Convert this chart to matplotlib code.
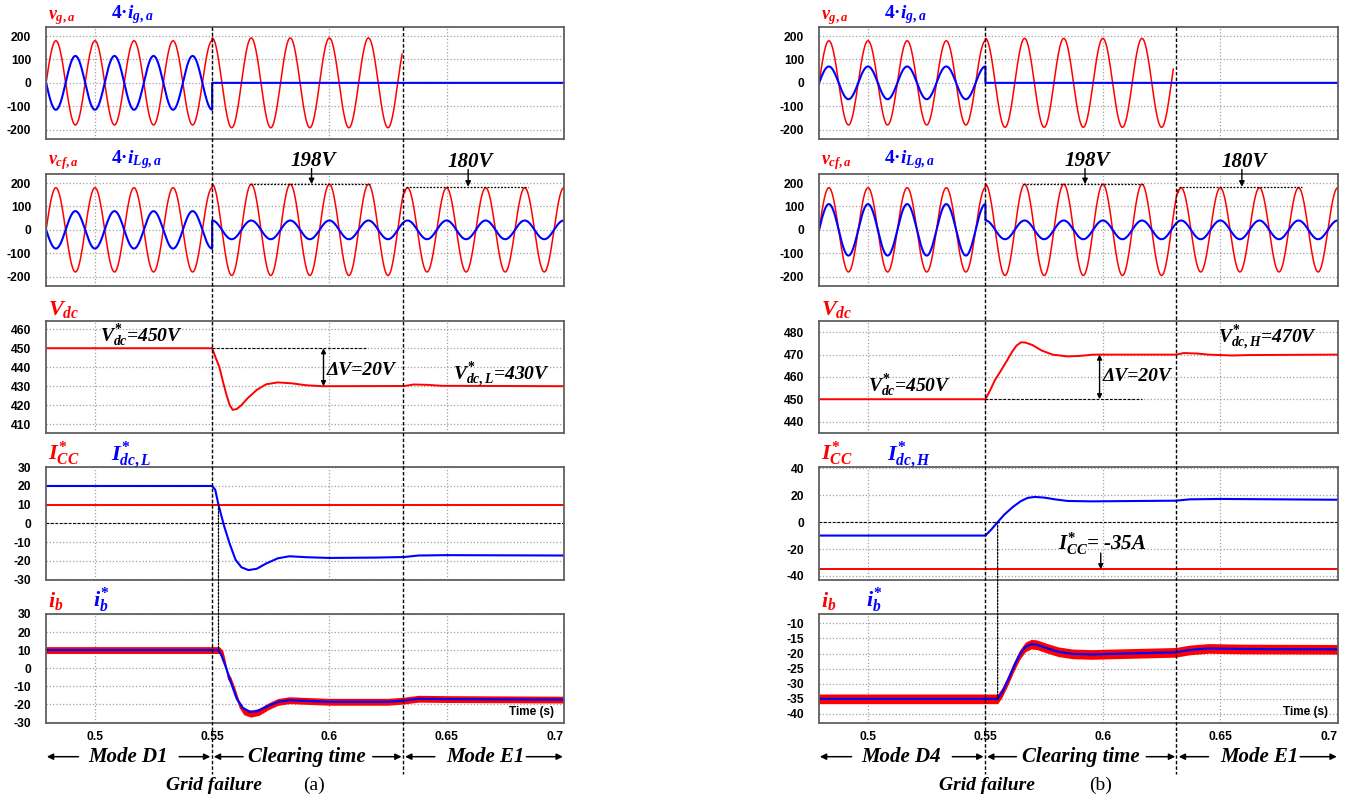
import numpy as np
import matplotlib
matplotlib.use('Agg')
import matplotlib.pyplot as plt
import matplotlib.transforms as mtrans
from matplotlib.patches import ConnectionPatch
from matplotlib.lines import Line2D

plt.rcParams['font.family'] = 'Liberation Sans'
plt.rcParams['font.weight'] = 'bold'
plt.rcParams['axes.unicode_minus'] = False
plt.rcParams['mathtext.fontset'] = 'custom'
plt.rcParams['mathtext.rm'] = 'Liberation Serif:bold'
plt.rcParams['mathtext.it'] = 'Liberation Serif:italic:bold'
plt.rcParams['mathtext.bf'] = 'Liberation Serif:bold'

RED = '#ff0000'
BLUE = '#0000ff'

# ---------------- data ----------------
f_grid = 60  # Hz
t_lim = (0.479, 0.7)
t_fail = 0.55
t_clear = [0.6316, 0.6313]      # end of clearing time, (a) and (b)
t_link = [0.5527, 0.5552]       # short dotted marker between Icc and ib panels

# cosine segments: edges and amplitudes (4*i for the currents)
vga_edges = [[0.479, 0.55, 0.631], [0.479, 0.55, 0.630]]
vga_amp = [[180, 192], [180, 190]]
iga_edges = [[0.479, 0.55, 0.7], [0.479, 0.55, 0.7]]
iga_amp = [[-115, 0], [70, 0]]
vcf_edges = [[0.479, 0.55, 0.632, 0.7], [0.479, 0.55, 0.632, 0.7]]
vcf_amp = [[180, 195, 180], [180, 195, 180]]
ilg_edges = [[0.479, 0.55, 0.632, 0.7], [0.479, 0.55, 0.632, 0.7]]
ilg_amp = [[-80, 40, 40], [110, 40, 40]]

# DC-link voltage
vdc_t_a = [0.479, 0.55, 0.5515, 0.5531, 0.5547, 0.5561, 0.5575, 0.5588, 0.5605, 0.5625,
           0.565, 0.569, 0.573, 0.578, 0.584, 0.59, 0.597, 0.632, 0.636, 0.642, 0.648, 0.7]
vdc_a = [450, 450, 445, 440, 432, 425.5, 420, 417.5, 418, 420,
         423.5, 428, 431, 432, 431.5, 430.5, 430, 430.1, 430.9, 430.7, 430.2, 430]
vdc_t_b = [0.479, 0.55, 0.552, 0.554, 0.5564, 0.559, 0.5612, 0.5632, 0.5651, 0.567, 0.57,
           0.574, 0.5786, 0.5849, 0.59, 0.596, 0.631, 0.6345, 0.64, 0.645, 0.655, 0.662, 0.7]
vdc_b = [450, 450, 454, 458.5, 462.5, 467, 471, 474, 475.5, 475.4, 474.3,
         471.8, 470, 469.2, 469.4, 470, 470, 470.7, 470.5, 470, 469.6, 469.8, 470]

# Icc* (constant) and Idc*
icc = [10, -35]
idc_t_a = [0.479, 0.55, 0.5513, 0.5527, 0.555, 0.5575, 0.56, 0.5625, 0.5655, 0.569, 0.573,
           0.578, 0.583, 0.59, 0.6, 0.62, 0.632, 0.638, 0.65, 0.7]
idc_a = [20, 20, 18, 10, -1, -11, -19.5, -23.5, -25, -24.3, -21.5,
         -18.7, -17.6, -18.1, -18.5, -18.3, -18, -17.2, -17, -17.2]
idc_t_b = [0.479, 0.55, 0.5525, 0.5552, 0.558, 0.5615, 0.565, 0.568, 0.571, 0.575, 0.58,
           0.585, 0.595, 0.631, 0.637, 0.65, 0.7]
idc_b = [-10, -10, -5.5, 0, 5.5, 11, 15.5, 18, 18.7, 18.2, 16.8,
         15.7, 15.4, 15.9, 16.9, 17.2, 16.6]

# battery current ib (red, with ripple) and reference ib* (blue)
ibr_t_a = [0.479, 0.5527, 0.554, 0.556, 0.558, 0.5605, 0.563, 0.566, 0.569, 0.573, 0.578,
           0.583, 0.59, 0.6, 0.625, 0.632, 0.638, 0.65, 0.7]
ibr_a = [10, 10, 7, 0, -8, -17, -22, -24.3, -24, -21.5, -18.8,
         -17.8, -18.2, -18.7, -18.7, -18, -17, -17.2, -17.5]
ib_t_a = [0.479, 0.553, 0.5545, 0.5555, 0.5565, 0.558, 0.5595, 0.5615, 0.5635, 0.5665, 0.57,
          0.574, 0.578, 0.583, 0.59, 0.6, 0.625, 0.632, 0.638, 0.65, 0.7]
ib_a = [10, 10, 8, 3, -4, -7, -12, -20, -24, -25.3, -24.3,
        -21.2, -18.8, -17.8, -18.2, -18.7, -18.7, -18, -17, -17.2, -17.5]
ibr_t_b = [0.479, 0.5552, 0.557, 0.5595, 0.562, 0.5645, 0.567, 0.5695, 0.572, 0.576, 0.581,
           0.587, 0.595, 0.61, 0.631, 0.637, 0.645, 0.66, 0.7]
ibr_b = [-35, -35, -33, -29, -24.5, -20.5, -17.8, -16.9, -17.1, -18.2, -19.4,
         -20.1, -20.3, -20, -19.6, -18.8, -18.3, -18.5, -18.6]
ib_t_b = ibr_t_b
ib_b = ibr_b
ripple = [1.9, 1.6]

# axis settings
ylims = [[(-240, 240), (-240, 240), (405.5, 464.5), (-30.3, 30), (-30.3, 30)],
         [(-240, 240), (-240, 240), (435, 485.2), (-43, 40.7), (-42.9, -6.9)]]
yticks = [[[-200, -100, 0, 100, 200], [-200, -100, 0, 100, 200], [410, 420, 430, 440, 450, 460],
           [-30, -20, -10, 0, 10, 20, 30], [-30, -20, -10, 0, 10, 20, 30]],
          [[-200, -100, 0, 100, 200], [-200, -100, 0, 100, 200], [440, 450, 460, 470, 480],
           [-40, -20, 0, 20, 40], [-40, -35, -30, -25, -20, -15, -10]]]
xticks = [0.5, 0.55, 0.6, 0.65, 0.7]
xtick_labels = ['0.5', '0.55', '0.6', '0.65', '0.7']


def cos_wave(edges, amps):
    ts, ys = [], []
    for a, b, amp in zip(edges[:-1], edges[1:], amps):
        t = np.linspace(a, b, 600)
        ts.append(t)
        ys.append(amp * np.cos(2 * np.pi * f_grid * t))
    return np.concatenate(ts), np.concatenate(ys)


W, H = 1350, 800
fig = plt.figure(figsize=(W / 100, H / 100), dpi=100)

rows_px = [(26.7, 139), (173.7, 286), (320.7, 432.7), (467.3, 580), (614, 722.7)]
cols_px = [(45.7, 563.8), (818.7, 1337.7)]

serif = dict(family='Liberation Serif', weight='bold', style='italic')
dash = (0, (2.5, 1.5))
dot = (0, (1.5, 1.2))

for c in range(2):
    x0, x1 = cols_px[c]
    axes = []
    for r, (top, bot) in enumerate(rows_px):
        ax = fig.add_axes([x0 / W, 1 - bot / H, (x1 - x0) / W, (bot - top) / H])
        ax.set_xlim(*t_lim)
        ax.set_ylim(*ylims[c][r])
        ax.set_yticks(yticks[c][r])
        ax.set_xticks(xticks)
        ax.set_axisbelow(True)
        ax.grid(True, ls=':', color='#a0a0a0', lw=0.9)
        ax.tick_params(length=0, labelsize=8.7, pad=10.5)
        ax.tick_params(axis='x', pad=6)
        if r < 4:
            ax.set_xticklabels([])
        else:
            ax.set_xticklabels(xtick_labels)
            ax.get_xticklabels()[-1].set_horizontalalignment('right')
        for s in ax.spines.values():
            s.set_color('#606060')
            s.set_linewidth(1.3)
        axes.append(ax)
    ax1, ax2, ax3, ax4, ax5 = axes
    xb = lambda ax: mtrans.blended_transform_factory(ax.transData, ax.transAxes)

    # panel 1: grid voltage / current
    t, y = cos_wave(vga_edges[c], vga_amp[c])
    ax1.plot(t, y, color=RED, lw=1.1)
    t, y = cos_wave(iga_edges[c], iga_amp[c])
    ax1.plot(t, y, color=BLUE, lw=1.5)
    ax1.text(t_lim[0] + 0.0008, 1.064, r'$v_{g,a}$', color=RED, fontsize=13,
             transform=xb(ax1), va='baseline')
    ax1.text(0.5067, 1.075, r'4·$i_{g,a}$', color=BLUE, fontsize=14,
             family='Liberation Serif', weight='bold', transform=xb(ax1), va='baseline')

    # panel 2: capacitor voltage / inductor current
    t, y = cos_wave(vcf_edges[c], vcf_amp[c])
    ax2.plot(t, y, color=RED, lw=1.1)
    t, y = cos_wave(ilg_edges[c], ilg_amp[c])
    ax2.plot(t, y, color=BLUE, lw=1.5)
    ax2.text(t_lim[0] + 0.0008, 1.084, r'$v_{cf,a}$', color=RED, fontsize=13,
             transform=xb(ax2), va='baseline')
    ax2.text(0.5067, 1.09, r'4·$i_{Lg,a}$', color=BLUE, fontsize=14,
             family='Liberation Serif', weight='bold', transform=xb(ax2), va='baseline')
    ax2.plot([0.566, 0.6175], [195, 195], color='black', ls=dot, lw=0.9)
    ax2.plot([0.6325, 0.6848], [184, 184], color='black', ls=dot, lw=0.9)
    for tx, ya, yb, lab in [(0.5924, 195, 262, '198V'), (0.6592, 184, 258, '180V')]:
        ax2.annotate('', xy=(tx, ya), xytext=(tx, yb), annotation_clip=False,
                     arrowprops=dict(arrowstyle='-|>', color='black', lw=1, mutation_scale=8,
                                     shrinkA=0, shrinkB=0))
        ax2.text(tx + 0.0008, yb + 12, lab, ha='center', va='baseline', fontsize=15, **serif)

    # panel 3: DC-link voltage
    if c == 0:
        ax3.plot(vdc_t_a, vdc_a, color=RED, lw=1.4)
        ax3.plot([0.55, 0.6162], [450, 450], color='black', ls=dash, lw=0.8)
        ax3.annotate('', xy=(0.5975, 430), xytext=(0.5975, 450),
                     arrowprops=dict(arrowstyle='<|-|>', color='black', lw=1, mutation_scale=7,
                                     shrinkA=0, shrinkB=0))
        ax3.text(0.502, 453.5, r'$V^{*}_{dc}$=450V', fontsize=14, va='baseline', **serif)
        ax3.text(0.599, 436, 'ΔV=20V', fontsize=14, va='baseline', **serif)
        ax3.text(0.6528, 433.3, r'$V^{*}_{dc,L}$=430V', fontsize=14, va='baseline', **serif)
    else:
        ax3.plot(vdc_t_b, vdc_b, color=RED, lw=1.4)
        ax3.plot([0.55, 0.6165], [450, 450], color='black', ls=dash, lw=0.8)
        ax3.annotate('', xy=(0.5986, 470), xytext=(0.5986, 450),
                     arrowprops=dict(arrowstyle='<|-|>', color='black', lw=1, mutation_scale=7,
                                     shrinkA=0, shrinkB=0))
        ax3.text(0.4998, 453.6, r'$V^{*}_{dc}$=450V', fontsize=14, va='baseline', **serif)
        ax3.text(0.5999, 458, 'ΔV=20V', fontsize=14, va='baseline', **serif)
        ax3.text(0.6489, 475.1, r'$V^{*}_{dc,H}$=470V', fontsize=14, va='baseline', **serif)
    ax3.text(t_lim[0] + 0.0008, 1.05, r'$V_{dc}$', color=RED, fontsize=16,
             transform=xb(ax3), va='baseline')

    # panel 4: Icc* and Idc*
    ax4.axhline(0, color='black', ls=dash, lw=0.8)
    ax4.axhline(icc[c], color=RED, lw=1.4)
    if c == 0:
        ax4.plot(idc_t_a, idc_a, color=BLUE, lw=1.5)
        ax4.text(0.5067, 1.065, r'$I^{*}_{dc,L}$', color=BLUE, fontsize=16,
                 transform=xb(ax4), va='baseline')
        y_top, y_bot = 10, 10
    else:
        ax4.plot(idc_t_b, idc_b, color=BLUE, lw=1.5)
        ax4.text(0.5082, 1.065, r'$I^{*}_{dc,H}$', color=BLUE, fontsize=16,
                 transform=xb(ax4), va='baseline')
        ax4.annotate('', xy=(0.5991, -35), xytext=(0.5991, -23),
                     arrowprops=dict(arrowstyle='-|>', color='black', lw=1, mutation_scale=7,
                                     shrinkA=0, shrinkB=0))
        ax4.text(0.5809, -20.5, r'$I^{*}_{CC}$= -35A', fontsize=15, va='baseline', **serif)
        y_top, y_bot = 0, -35
    ax4.text(t_lim[0] + 0.0008, 1.065, r'$I^{*}_{CC}$', color=RED, fontsize=16,
             transform=xb(ax4), va='baseline')

    # panel 5: battery current
    if c == 0:
        ax5.fill_between(ib_t_a, np.array(ib_a) - ripple[0], np.array(ib_a) + ripple[0],
                         color=RED, lw=0)
        ax5.plot(ibr_t_a, ibr_a, color=BLUE, lw=1.6)
    else:
        ax5.fill_between(ib_t_b, np.array(ib_b) - ripple[1], np.array(ib_b) + ripple[1],
                         color=RED, lw=0)
        ax5.plot(ibr_t_b, ibr_b, color=BLUE, lw=1.6)
    ax5.text(t_lim[0] + 0.0008, 1.065, r'$i_{b}$', color=RED, fontsize=16,
             transform=xb(ax5), va='baseline')
    ax5.text(0.499, 1.065, r'$i^{*}_{b}$', color=BLUE, fontsize=16,
             transform=xb(ax5), va='baseline')
    ax5.text(0.696, 0.04, 'Time (s)', transform=xb(ax5), ha='right', va='bottom', fontsize=8.5)

    con = ConnectionPatch(xyA=(t_link[c], y_top), coordsA=ax4.transData,
                          xyB=(t_link[c], y_bot), coordsB=ax5.transData,
                          color='black', ls=dot, lw=0.9)
    fig.add_artist(con)

    # long dashed event lines through all panels
    bf = mtrans.blended_transform_factory(ax5.transData, fig.transFigure)
    for tv in [t_fail, t_clear[c]]:
        fig.add_artist(Line2D([tv, tv], [1 - 26.7 / H, 1 - 774 / H], transform=bf,
                              color='black', ls=dash, lw=1.0))

    # mode row
    y_mode = 1 - 756.7 / H
    y_grid = 1 - 785.7 / H
    mode_name = ['Mode D1', 'Mode D4'][c]
    arrows = [(0.493, 0.4795), (0.5359, 0.5492), (0.5632, 0.5507), (0.6185, 0.6308),
              (0.645, 0.6323), (0.684, 0.6996)]
    for tail, head in arrows:
        ax5.annotate('', xy=(head, y_mode), xytext=(tail, y_mode), xycoords=bf, textcoords=bf,
                     annotation_clip=False,
                     arrowprops=dict(arrowstyle='-|>', color='black', lw=1.1, mutation_scale=9,
                                     shrinkA=0, shrinkB=0))
    for tx, lab in [(0.5142, mode_name), (0.5905, 'Clearing time'), (0.6666, 'Mode E1')]:
        ax5.text(tx, y_mode, lab, transform=bf, ha='center', va='center', fontsize=15, **serif)
    ax5.text(0.5508, y_grid, 'Grid failure', transform=bf, ha='center', va='center',
             fontsize=14, **serif)
    ax5.text([0.5936, 0.5991][c], y_grid, ['(a)', '(b)'][c], transform=bf, ha='center',
             va='center', fontsize=14, family='Liberation Serif', weight='normal')

fig.savefig('out.png', dpi=100)
